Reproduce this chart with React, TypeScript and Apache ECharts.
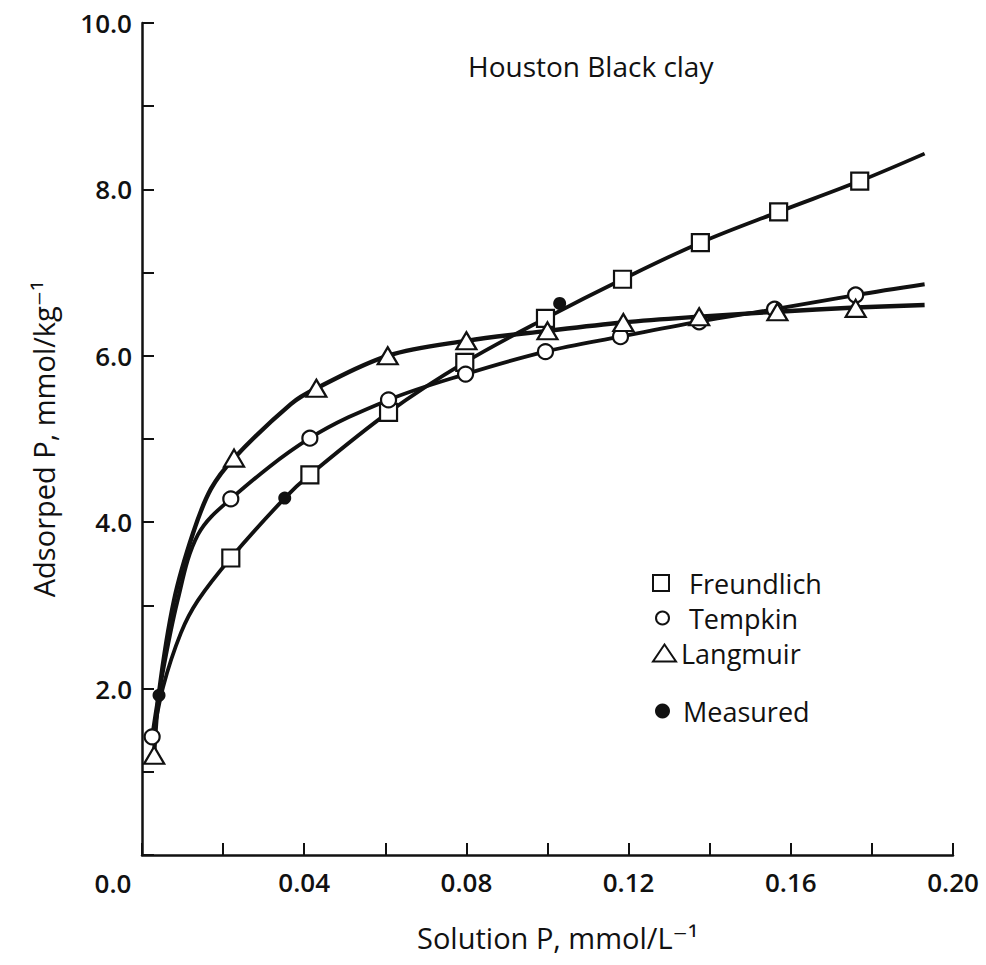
import React, { useEffect, useRef } from 'react';
import * as echarts from 'echarts';

// ---- Data ----
const xTickLabels = ['0.04', '0.08', '0.12', '0.16', '0.20'];
const yTickLabels = ['2.0', '4.0', '6.0', '8.0', '10.0'];
const originLabel = '0.0';

const freundlichCurve: [number, number][] = [
  [0.0027, 1.4], [0.0052, 2.02], [0.0096, 2.67], [0.0138, 3.06], [0.0219, 3.57],
  [0.0352, 4.29], [0.0414, 4.57], [0.0608, 5.32], [0.0796, 5.92], [0.0995, 6.45],
  [0.1185, 6.92], [0.1377, 7.36], [0.157, 7.73], [0.177, 8.1], [0.193, 8.43],
];
const tempkinCurve: [number, number][] = [
  [0.0025, 1.42], [0.0042, 1.95], [0.0088, 3.06], [0.0138, 3.85], [0.0219, 4.28],
  [0.0414, 5.01], [0.0608, 5.47], [0.0798, 5.78], [0.0995, 6.05], [0.118, 6.23],
  [0.1374, 6.41], [0.156, 6.56], [0.176, 6.73], [0.193, 6.86],
];
const langmuirCurve: [number, number][] = [
  [0.003, 1.22], [0.0042, 1.95], [0.0079, 3.06], [0.0126, 3.87], [0.017, 4.4],
  [0.0227, 4.77], [0.0367, 5.42], [0.043, 5.61], [0.0606, 6.0], [0.08, 6.18],
  [0.1, 6.3], [0.1187, 6.4], [0.1374, 6.47], [0.1567, 6.53], [0.176, 6.58],
  [0.193, 6.61],
];

const freundlichPts: [number, number][] = [
  [0.0219, 3.57], [0.0414, 4.57], [0.0608, 5.32], [0.0796, 5.92], [0.0995, 6.45],
  [0.1185, 6.92], [0.1377, 7.36], [0.157, 7.73], [0.177, 8.1],
];
const tempkinPts: [number, number][] = [
  [0.0025, 1.42], [0.0219, 4.28], [0.0414, 5.01], [0.0608, 5.47], [0.0798, 5.78],
  [0.0995, 6.05], [0.118, 6.23], [0.1374, 6.41], [0.156, 6.56], [0.176, 6.73],
];
const langmuirPts: [number, number][] = [
  [0.003, 1.2], [0.0227, 4.77], [0.043, 5.61], [0.0606, 6.0], [0.08, 6.18],
  [0.1, 6.3], [0.1187, 6.4], [0.1374, 6.47], [0.1567, 6.53], [0.176, 6.57],
];
const measuredPts: [number, number][] = [
  [0.0042, 1.92], [0.0352, 4.29], [0.103, 6.63],
];

const FONT = '"Open Sans", "DejaVu Sans", sans-serif';
const INK = '#111';

export default function App() {
  const ref = useRef<HTMLDivElement>(null);
  useEffect(() => {
    const chart = echarts.init(ref.current!, null, { renderer: 'svg' });
    const lineSeries = (name: string, data: [number, number][], w: number) => ({
      name,
      type: 'line',
      data,
      showSymbol: false,
      smooth: 0.35,
      lineStyle: { color: INK, width: w },
      z: 2,
      silent: true,
    });
    const hollow = { color: '#fff', borderColor: INK, borderWidth: 2.2, opacity: 1 };
    const legendText = (pad: number) => ({
      fontFamily: FONT,
      fontSize: 27,
      color: INK,
      lineHeight: 28,
      height: 28,
      padding: [0, 0, 0, pad],
    });
    chart.setOption({
      animation: false,
      backgroundColor: '#fff',
      title: {
        text: 'Houston Black clay',
        left: 468,
        top: 52,
        padding: 0,
        textStyle: { fontFamily: FONT, fontSize: 28, fontWeight: 'normal', color: INK },
      },
      grid: { left: 142, right: 33, top: 23, bottom: 110, containLabel: false },
      xAxis: {
        type: 'value',
        min: 0,
        max: 0.2,
        interval: 0.02,
        name: 'Solution P, mmol/L⁻¹',
        nameLocation: 'middle',
        nameGap: 68,
        nameTextStyle: { fontFamily: FONT, fontSize: 29, color: INK, padding: [0, 0, 0, 20] },
        axisLine: { lineStyle: { color: INK, width: 2.5 } },
        axisTick: { inside: true, length: 12, lineStyle: { color: INK, width: 2 } },
        axisLabel: {
          margin: 14,
          fontFamily: FONT,
          fontSize: 26,
          fontWeight: 600,
          color: INK,
          formatter: (v: number) => {
            const s = v.toFixed(2);
            return xTickLabels.includes(s) ? s : '';
          },
        },
        splitLine: { show: false },
      },
      yAxis: {
        type: 'value',
        min: 0,
        max: 10,
        interval: 1,
        name: 'Adsorped P, mmol/kg⁻¹',
        nameLocation: 'middle',
        nameGap: 84,
        nameRotate: 90,
        nameTextStyle: { fontFamily: FONT, fontSize: 29, color: INK },
        axisLine: { lineStyle: { color: INK, width: 2.5 } },
        axisTick: { inside: true, length: 12, lineStyle: { color: INK, width: 2 } },
        axisLabel: {
          margin: 10,
          fontFamily: FONT,
          fontSize: 26,
          fontWeight: 600,
          color: INK,
          formatter: (v: number) => {
            const s = v.toFixed(1);
            return yTickLabels.includes(s) ? s : '';
          },
        },
        splitLine: { show: false },
      },
      legend: [
        {
          data: ['Freundlich'], left: 652, top: 569, padding: 0, selectedMode: false,
          itemWidth: 16, itemHeight: 16, icon: 'rect',
          itemStyle: { color: '#fff', borderColor: INK, borderWidth: 2 },
          textStyle: legendText(15),
        },
        {
          data: ['Tempkin'], left: 655, top: 604, padding: 0, selectedMode: false,
          itemWidth: 13, itemHeight: 13, icon: 'circle',
          itemStyle: { color: '#fff', borderColor: INK, borderWidth: 2 },
          textStyle: legendText(15),
        },
        {
          data: ['Langmuir'], left: 652, top: 639, padding: 0, selectedMode: false,
          itemWidth: 23, itemHeight: 17, icon: 'triangle',
          itemStyle: { color: '#fff', borderColor: INK, borderWidth: 2 },
          textStyle: legendText(0),
        },
        {
          data: ['Measured'], left: 655, top: 697, padding: 0, selectedMode: false,
          itemWidth: 15, itemHeight: 15, icon: 'circle',
          itemStyle: { color: INK, borderWidth: 0, opacity: 1 },
          textStyle: legendText(8),
        },
      ],
      graphic: [
        {
          type: 'text',
          x: 113,
          y: 883,
          style: {
            text: originLabel,
            font: `600 26px ${FONT}`,
            fill: INK,
            align: 'center',
            verticalAlign: 'middle',
          },
        },
      ],
      series: [
        lineSeries('Freundlich curve', freundlichCurve, 3.8),
        lineSeries('Tempkin curve', tempkinCurve, 3.8),
        lineSeries('Langmuir curve', langmuirCurve, 4.4),
        {
          name: 'Freundlich', type: 'scatter', data: freundlichPts, symbol: 'rect',
          symbolSize: 17, itemStyle: hollow, z: 4,
        },
        {
          name: 'Tempkin', type: 'scatter', data: tempkinPts, symbol: 'circle',
          symbolSize: 15, itemStyle: hollow, z: 4,
        },
        {
          name: 'Langmuir', type: 'scatter', data: langmuirPts, symbol: 'triangle',
          symbolSize: [20, 17], itemStyle: hollow, z: 4,
        },
        {
          name: 'Measured', type: 'scatter', data: measuredPts, symbol: 'circle',
          symbolSize: 13, itemStyle: { color: INK, opacity: 1 }, z: 5,
        },
      ],
    });
    return () => chart.dispose();
  }, []);
  return (
    <div
      ref={ref}
      style={{ position: 'absolute', left: 0, top: 0, width: 986, height: 965, background: '#fff' }}
    />
  );
}
